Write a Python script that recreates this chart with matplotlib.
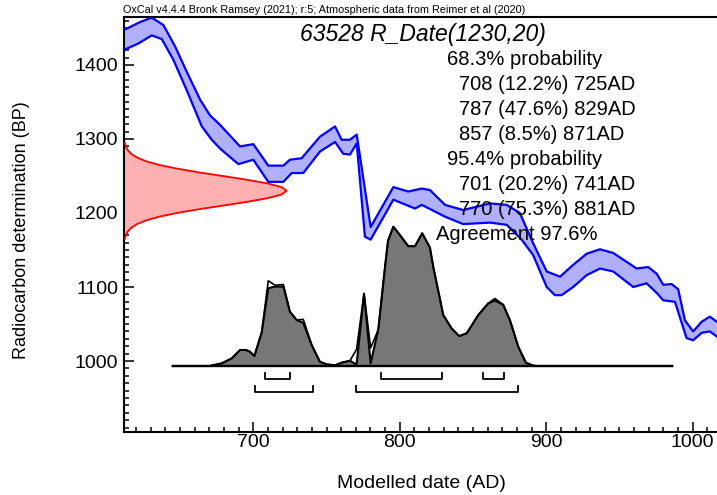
import numpy as np
import matplotlib
matplotlib.use("Agg")
import matplotlib.pyplot as plt

plt.rcParams['font.family'] = ['Liberation Sans', 'DejaVu Sans']

# calibration curve band (IntCal20): year AD / BP
cal_hi_year = [612.4, 622.7, 630.6, 638.6, 646.6, 654.5, 663.7, 670.4, 677.3, 690.9,
               700.0, 710.2, 720.5, 725.0, 733.0, 745.4, 755.8, 760.3, 766.0, 770.6,
               780.1, 795.6, 805.8, 815.0, 820.6, 830.9, 843.3, 861.6, 873.0, 882.0,
               891.1, 900.3, 909.4, 918.4, 927.6, 936.7, 945.7, 954.9, 961.7, 969.6,
               975.4, 979.9, 985.6, 990.1, 994.7, 1000.3, 1006.1, 1011.7, 1016.5]
cal_hi_bp = [1448, 1458, 1464, 1454, 1425, 1391, 1353, 1332, 1319, 1290,
             1293, 1264, 1264, 1272, 1274, 1303, 1317, 1299, 1299, 1306,
             1181, 1235, 1229, 1233, 1231, 1211, 1204, 1213, 1211, 1200,
             1159, 1121, 1114, 1130, 1145, 1151, 1146, 1134, 1125, 1127,
             1118, 1103, 1104, 1097, 1055, 1040, 1053, 1060, 1053]
cal_lo_year = [612.4, 621.5, 630.6, 637.5, 645.4, 654.5, 664.8, 671.6, 677.3, 689.8,
               700.0, 710.2, 720.5, 726.2, 734.1, 745.5, 755.8, 761.4, 766.0, 770.6,
               776.2, 780.1, 795.6, 810.4, 815.0, 830.9, 843.3, 861.6, 873.0, 883.2,
               891.1, 900.3, 905.9, 910.5, 918.4, 927.6, 936.7, 945.7, 959.4, 968.5,
               975.4, 979.9, 987.9, 995.8, 1000.3, 1006.1, 1011.7, 1016.5]
cal_lo_bp = [1421, 1429, 1440, 1435, 1407, 1366, 1317, 1299, 1287, 1266,
             1272, 1242, 1242, 1254, 1254, 1283, 1296, 1280, 1279, 1294,
             1168, 1164, 1218, 1206, 1211, 1195, 1185, 1187, 1184, 1164,
             1143, 1100, 1089, 1089, 1100, 1116, 1125, 1121, 1100, 1105,
             1092, 1082, 1080, 1031, 1028, 1038, 1040, 1033]

# R_Date(1230,20) likelihood (relative height)
rdate_bp = list(range(1165, 1300, 5))
rdate_dens = [0.005, 0.011, 0.023, 0.044, 0.080, 0.135, 0.216, 0.325, 0.458, 0.607,
              0.755, 0.882, 0.969, 1.000, 0.969, 0.882, 0.755, 0.607, 0.458, 0.325,
              0.216, 0.135, 0.080, 0.044, 0.023, 0.011, 0.005]

# modelled (posterior) distribution, relative height
post_year = [645, 670, 678.4, 685.3, 690.9, 695, 697.7, 700.7, 705.7, 710.2,
             714.8, 720.5, 725, 729.6, 734.1, 739.9, 745.5, 750.1, 755.8, 760.3,
             766, 770.5, 775.6, 780.1, 785.3, 790, 792, 795.6, 800.1, 805.8,
             810.4, 815.3, 820.6, 822.9, 829.7, 835.4, 840.6, 845.7, 853.6, 860.4,
             865, 870.6, 875.2, 880.9, 886.1, 890, 893, 986]
post_prob = [0, 0, 0.019, 0.055, 0.115, 0.115, 0.103, 0.072, 0.24, 0.558,
             0.57, 0.57, 0.39, 0.33, 0.31, 0.15, 0.03, 0.012, 0.005, 0.024,
             0.038, 0.01, 0.52, 0.02, 0.26, 0.72, 0.9, 1.0, 0.94, 0.86,
             0.86, 0.953, 0.85, 0.71, 0.366, 0.27, 0.215, 0.235, 0.366, 0.45,
             0.47, 0.44, 0.33, 0.139, 0.024, 0.007, 0, 0]
# unmodelled calibrated distribution (outline)
like_prob = list(post_prob)
like_prob[post_year.index(710.2)] = 0.612
like_prob[post_year.index(714.8)] = 0.58
like_prob[post_year.index(720.5)] = 0.585
like_prob[post_year.index(734.1)] = 0.335
like_prob[post_year.index(770.5)] = 0.12
like_prob[post_year.index(780.1)] = 0.13
like_prob[post_year.index(865)] = 0.485

ranges68 = [(708, 725), (787, 829), (857, 871)]
ranges95 = [(701, 741), (770, 881)]

prob_lines = ["68.3% probability", "708 (12.2%) 725AD", "787 (47.6%) 829AD",
              "857 (8.5%) 871AD", "95.4% probability", "701 (20.2%) 741AD",
              "770 (75.3%) 881AD"]
agreement = "Agreement 97.6%"

W, H = 717, 495
fig = plt.figure(figsize=(W / 100, H / 100), dpi=100)
pos = [124 / W, (H - 431.7) / H, 1 - 124 / W, (431.7 - 16.5) / H]
ax = fig.add_axes(pos)
xlim = (611.7, 1016.6)
ax.set_xlim(*xlim)
ax.set_ylim(904.5, 1465.5)

# calibration band
ax.fill(np.concatenate([cal_hi_year, cal_lo_year[::-1]]),
        np.concatenate([cal_hi_bp, cal_lo_bp[::-1]]),
        facecolor='#b0b0ff', edgecolor='none', zorder=2)
ax.plot(cal_hi_year, cal_hi_bp, color='#0000ff', lw=1.6, zorder=3)
ax.plot(cal_lo_year, cal_lo_bp, color='#0000ff', lw=1.6, zorder=3)

# radiocarbon date on the y axis
red_w = 111
rx = xlim[0] + red_w * np.array(rdate_dens)
ax.fill_betweenx(rdate_bp, xlim[0], rx, color='#ffb0b0', lw=0, zorder=2)
ax.plot(rx, rdate_bp, color='#ff0000', lw=1.3, zorder=3)

ax.spines['right'].set_visible(False)
for s in ['left', 'bottom', 'top']:
    ax.spines[s].set_linewidth(1.5)
ax.set_xticks(np.arange(700, 1001, 100))
ax.set_xticks(np.arange(620, 1020, 10), minor=True)
ax.set_yticks(np.arange(1000, 1401, 100))
ax.set_yticks(np.arange(910, 1470, 10), minor=True)
ax.tick_params(which='both', direction='in', width=1.1, labelsize=14)
ax.tick_params(which='major', length=7)
ax.tick_params(which='minor', length=3.5)
ax.tick_params(axis='x', pad=2)
ax.tick_params(axis='y', pad=4)

# posterior in its own (hidden) axes over the same dates
ax2 = fig.add_axes(pos, sharex=ax)
ax2.set_ylim(-0.4716, 2.509)
ax2.axis('off')
ax2.patch.set_visible(False)
ax2.fill_between(post_year, 0, post_prob, facecolor='#777777', edgecolor='none', zorder=2)
ax2.plot(post_year, like_prob, color='black', lw=1.2, zorder=3)
ax2.plot(post_year, post_prob, color='black', lw=1.5, zorder=3)
ax2.plot([post_year[0], post_year[-1]], [0, 0], color='black', lw=1.7, zorder=4)
for lo, hi in ranges68:
    ax2.plot([lo, lo, hi, hi], [-0.048, -0.093, -0.093, -0.048], color='black', lw=1.3)
for lo, hi in ranges95:
    ax2.plot([lo, lo, hi, hi], [-0.144, -0.184, -0.184, -0.144], color='black', lw=1.3)

def fx(px):
    return px / W

def fy(py):
    return 1 - py / H

fig.text(fx(123), fy(10), "OxCal v4.4.4 Bronk Ramsey (2021); r:5; Atmospheric data from Reimer et al (2020)",
         fontsize=7.8, ha='left', va='center')
fig.text(fx(300), fy(35), "63528 R_Date(1230,20)", fontsize=16.5, style='italic',
         ha='left', va='center')
for i, t in enumerate(prob_lines):
    x0 = 447 if t.endswith("probability") else 459
    fig.text(fx(x0), fy(65 + 25 * i), t, fontsize=14.5, ha='left', va='baseline')
fig.text(fx(436), fy(240), agreement, fontsize=14.5, ha='left', va='baseline')

fig.text(fx(22), fy(230), "Radiocarbon determination (BP)", fontsize=13,
         rotation=90, ha='center', va='center')
fig.text(fx(421), fy(484), "Modelled date (AD)", fontsize=14, ha='center', va='center')

fig.savefig("out.png", dpi=100)
